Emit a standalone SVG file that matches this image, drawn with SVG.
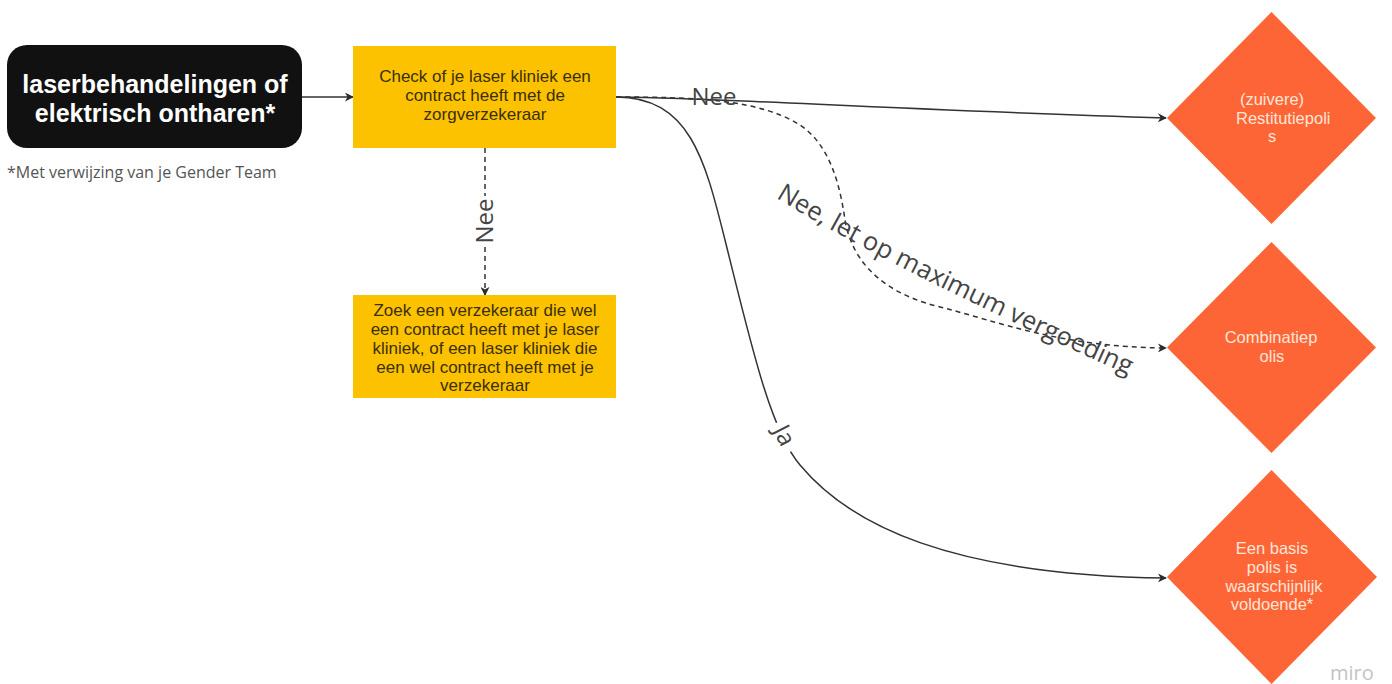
<svg xmlns="http://www.w3.org/2000/svg" width="1392" height="684" viewBox="0 0 1392 684">
<defs>
<marker id="arr" viewBox="0 0 10 10" refX="9" refY="5" markerWidth="9" markerHeight="9" markerUnits="userSpaceOnUse" orient="auto">
<path d="M0,0 L10,5 L0,10 L3,5 Z" fill="#2b2b2b"/>
</marker>
<path id="lblpath" d="M776,198 Q905,276 1140,380"/>
</defs>
<style>
.conn{fill:none;stroke:#333;stroke-width:1.5}
.dash{stroke-dasharray:5,4}
.yb{fill:#FCC200}
.yt{font-family:"Liberation Sans",Arial,sans-serif;font-size:17px;fill:#3a2f08;text-anchor:middle}
.dm{fill:#FD6536}
.dt{font-family:"Liberation Sans",Arial,sans-serif;font-size:16.5px;fill:#FDE6D8;text-anchor:middle}
.dts{text-anchor:start}
.lbl{font-family:"Open Sans","DejaVu Sans",sans-serif;font-size:24px;fill:#444}
</style>
<rect width="1392" height="684" fill="#fff"/>

<g id="connectors">
<path class="conn" d="M302,97 L353,97" marker-end="url(#arr)"/>
<path class="conn dash" d="M485,148 L485,295" marker-end="url(#arr)"/>
<path class="conn" d="M616,97 C700,97 900,110 1166,118" marker-end="url(#arr)"/>
<path class="conn dash" d="M616,97 C700,97 760,100 800,125 C830,145 840,185 845,220 C850,250 870,290 940,307 C1000,322 1060,347 1166,348" marker-end="url(#arr)"/>
<path class="conn" d="M616,97 C690,97 705,160 725,240 C750,340 770,430 800,465 C850,525 950,575 1166,578" marker-end="url(#arr)"/>
<rect x="470" y="196" width="30" height="50" fill="#fff"/>
<rect x="768" y="422" width="32" height="30" fill="#fff" transform="rotate(63 784 437)"/>
<text class="lbl" x="714" y="105" text-anchor="middle">Nee</text>
<text class="lbl" x="0" y="0" text-anchor="middle" transform="translate(493 221) rotate(-90)">Nee</text>
<text class="lbl" x="0" y="0" text-anchor="middle" transform="translate(777 439) rotate(63)">Ja</text>
<text class="lbl" style="font-size:25.5px"><textPath href="#lblpath">Nee, let op maximum vergoeding</textPath></text>
</g>

<g id="start">
<rect x="7" y="45" width="295" height="103" rx="20" ry="20" fill="#111"/>
<text x="155" y="93" text-anchor="middle" font-family="Liberation Sans,Arial,sans-serif" font-weight="bold" font-size="25" fill="#fff">laserbehandelingen of</text>
<text x="155" y="122" text-anchor="middle" font-family="Liberation Sans,Arial,sans-serif" font-weight="bold" font-size="25" fill="#fff">elektrisch ontharen*</text>
</g>

<g id="footnote">
<text x="7" y="178" font-family="Open Sans,DejaVu Sans,sans-serif" font-size="16" fill="#555">*Met verwijzing van je Gender Team</text>
</g>

<g id="check">
<rect class="yb" x="353" y="46" width="263" height="102"/>
<text class="yt" x="485" y="82">Check of je laser kliniek een</text>
<text class="yt" x="485" y="101">contract heeft met de</text>
<text class="yt" x="485" y="120">zorgverzekeraar</text>
</g>

<g id="zoek">
<rect class="yb" x="353" y="295" width="263" height="103"/>
<text class="yt" x="485" y="316">Zoek een verzekeraar die wel</text>
<text class="yt" x="485" y="335">een contract heeft met je laser</text>
<text class="yt" x="485" y="354">kliniek, of een laser kliniek die</text>
<text class="yt" x="485" y="373">een wel contract heeft met je</text>
<text class="yt" x="485" y="391">verzekeraar</text>
</g>

<g id="restitutie">
<polygon class="dm" points="1271.5,12 1376,118 1271.5,224 1167,118"/>
<text class="dt" x="1272" y="105">(zuivere)</text>
<text class="dt dts" x="1236" y="124">Restitutiepoli</text>
<text class="dt" x="1272" y="142">s</text>
</g>

<g id="combinatie">
<polygon class="dm" points="1271.5,242 1376,347.5 1271.5,453 1167,347.5"/>
<text class="dt" x="1271" y="343">Combinatiep</text>
<text class="dt" x="1272" y="362">olis</text>
</g>

<g id="basis">
<polygon class="dm" points="1271.5,470 1377,577 1271.5,684 1167,577"/>
<text class="dt" x="1272" y="554">Een basis</text>
<text class="dt" x="1272" y="573">polis is</text>
<text class="dt" x="1274" y="592">waarschijnlijk</text>
<text class="dt" x="1272" y="610">voldoende*</text>
</g>

<g id="watermark">
<text x="1330" y="680" font-family="Open Sans,DejaVu Sans,sans-serif" font-size="20" fill="#c4c4c4">miro</text>
</g>
</svg>
